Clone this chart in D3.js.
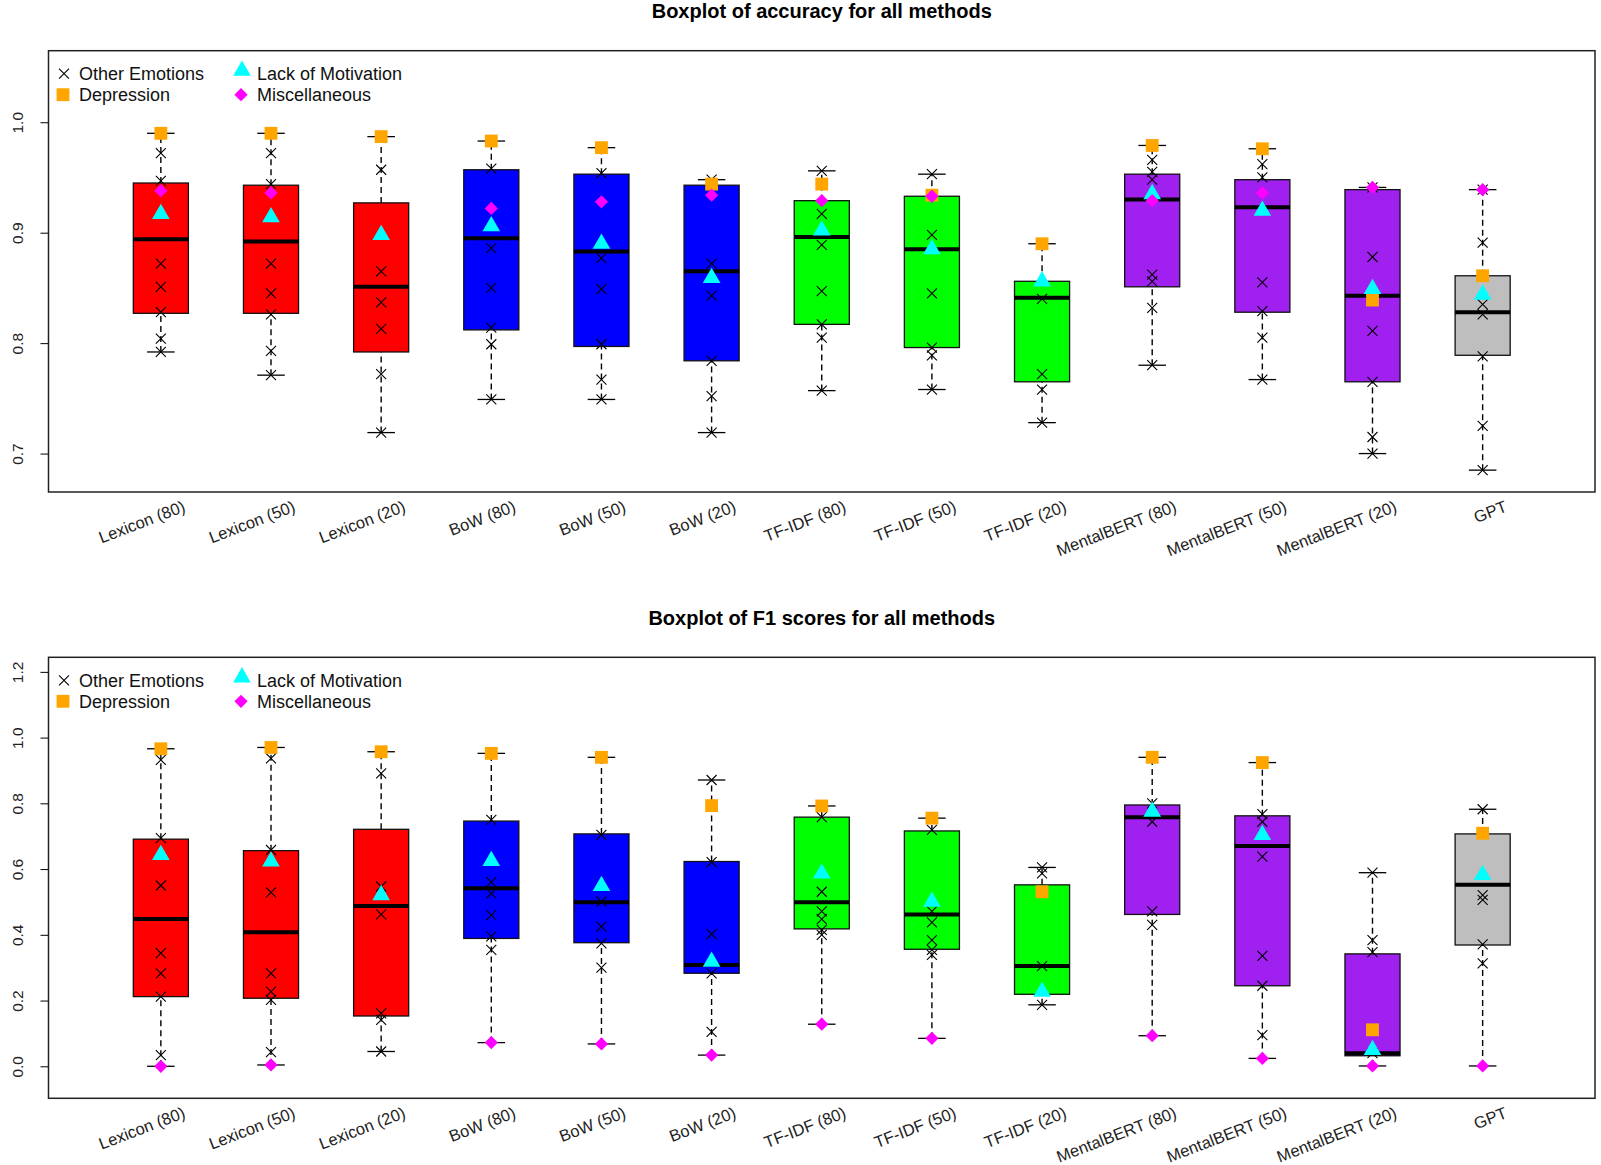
<!DOCTYPE html>
<html>
<head>
<meta charset="utf-8">
<script src="https://cdn.jsdelivr.net/npm/d3@7"></script>
<style>
  body { margin: 0; background: #fff; }
  svg text { font-family: "Liberation Sans", Arial, sans-serif; }
</style>
</head>
<body>
<svg id="chart" width="1601" height="1165"></svg>
<script>
// categories
var methods = ["Lexicon (80)", "Lexicon (50)", "Lexicon (20)", "BoW (80)", "BoW (50)", "BoW (20)",
  "TF-IDF (80)", "TF-IDF (50)", "TF-IDF (20)", "MentalBERT (80)", "MentalBERT (50)", "MentalBERT (20)", "GPT"];
var legendLabels = ["Other Emotions", "Depression", "Lack of Motivation", "Miscellaneous"];

// accuracy: [lower whisker, Q1, median, Q3, upper whisker]
var accStats = [
  [0.792, 0.827, 0.894, 0.945, 0.990],
  [0.771, 0.827, 0.892, 0.943, 0.990],
  [0.719, 0.792, 0.851, 0.927, 0.987],
  [0.749, 0.812, 0.895, 0.957, 0.983],
  [0.749, 0.797, 0.883, 0.953, 0.977],
  [0.719, 0.784, 0.865, 0.943, 0.948],
  [0.757, 0.817, 0.896, 0.929, 0.956],
  [0.758, 0.796, 0.885, 0.933, 0.953],
  [0.728, 0.765, 0.841, 0.856, 0.890],
  [0.780, 0.851, 0.930, 0.953, 0.979],
  [0.767, 0.828, 0.923, 0.948, 0.976],
  [0.700, 0.765, 0.843, 0.939, 0.941],
  [0.685, 0.789, 0.828, 0.861, 0.939]
];
var accOther = [
  [0.972, 0.947, 0.872, 0.851, 0.828, 0.804, 0.792],
  [0.972, 0.944, 0.872, 0.845, 0.826, 0.793, 0.771],
  [0.957, 0.865, 0.837, 0.813, 0.772, 0.719],
  [0.958, 0.886, 0.850, 0.814, 0.799, 0.749],
  [0.954, 0.877, 0.849, 0.799, 0.767, 0.749],
  [0.948, 0.872, 0.843, 0.784, 0.752, 0.719],
  [0.956, 0.917, 0.889, 0.847, 0.817, 0.805, 0.757],
  [0.953, 0.898, 0.845, 0.796, 0.789, 0.758],
  [0.840, 0.772, 0.758, 0.728],
  [0.966, 0.955, 0.948, 0.862, 0.856, 0.832, 0.780],
  [0.962, 0.950, 0.855, 0.829, 0.805, 0.767],
  [0.941, 0.878, 0.811, 0.765, 0.715, 0.700],
  [0.939, 0.891, 0.835, 0.826, 0.788, 0.725, 0.685]
];
var accDepression = [0.990, 0.990, 0.987, 0.983, 0.977, 0.944, 0.944, 0.934, 0.890, 0.979, 0.976, 0.839, 0.861];
var accMotivation = [0.917, 0.914, 0.898, 0.906, 0.890, 0.859, 0.902, 0.885, 0.856, 0.935, 0.920, 0.849, 0.844];
var accMisc = [0.938, 0.936, null, 0.922, 0.928, 0.934, 0.929, 0.933, null, 0.929, 0.936, 0.941, 0.939];

// F1: [lower whisker, Q1, median, Q3, upper whisker]
var f1Stats = [
  [0.000, 0.212, 0.448, 0.691, 0.966],
  [0.004, 0.207, 0.408, 0.656, 0.970],
  [0.045, 0.153, 0.488, 0.721, 0.957],
  [0.072, 0.389, 0.542, 0.746, 0.952],
  [0.068, 0.376, 0.499, 0.707, 0.940],
  [0.034, 0.283, 0.308, 0.623, 0.871],
  [0.128, 0.418, 0.499, 0.758, 0.792],
  [0.085, 0.356, 0.462, 0.716, 0.755],
  [0.187, 0.219, 0.305, 0.552, 0.605],
  [0.093, 0.462, 0.758, 0.795, 0.940],
  [0.024, 0.245, 0.670, 0.762, 0.924],
  [0.001, 0.032, 0.040, 0.342, 0.589],
  [0.001, 0.369, 0.552, 0.707, 0.782]
];
var f1Other = [
  [0.932, 0.694, 0.550, 0.344, 0.283, 0.212, 0.034],
  [0.937, 0.658, 0.529, 0.283, 0.227, 0.202, 0.043],
  [0.891, 0.547, 0.462, 0.161, 0.141, 0.045],
  [0.750, 0.560, 0.526, 0.460, 0.395, 0.354],
  [0.704, 0.501, 0.425, 0.374, 0.300],
  [0.871, 0.621, 0.402, 0.283, 0.105],
  [0.758, 0.531, 0.471, 0.448, 0.415, 0.400],
  [0.719, 0.471, 0.438, 0.384, 0.354, 0.339],
  [0.605, 0.587, 0.305, 0.187],
  [0.800, 0.744, 0.471, 0.430],
  [0.767, 0.744, 0.638, 0.336, 0.245, 0.095],
  [0.589, 0.384, 0.347, 0.040],
  [0.782, 0.521, 0.506, 0.371, 0.313]
];
var f1Depression = [0.966, 0.970, 0.957, 0.952, 0.940, 0.793, 0.792, 0.755, 0.531, 0.940, 0.924, 0.111, 0.709];
var f1Motivation = [0.643, 0.623, 0.521, 0.625, 0.549, 0.318, 0.587, 0.501, 0.227, 0.775, 0.704, 0.050, 0.582];
var f1Misc = [0.000, 0.004, null, 0.072, 0.068, 0.034, 0.128, 0.085, null, 0.093, 0.024, 0.001, 0.001];

var accTicks = [0.7, 0.8, 0.9, 1.0];
var f1Ticks = [0.0, 0.2, 0.4, 0.6, 0.8, 1.0, 1.2];

// styles
var boxFill = ["#ff0000", "#ff0000", "#ff0000", "#0000ff", "#0000ff", "#0000ff",
  "#00ff00", "#00ff00", "#00ff00", "#a020f0", "#a020f0", "#a020f0", "#bebebe"];
var colDep = "#ffa500", colMot = "#00ffff", colMisc = "#ff00ff";

var svg = d3.select("#chart");
var left = 48.5, right = 1595;

var crossPath = "M-5,-5L5,5M-5,5L5,-5";
var squarePath = d3.symbol().type(d3.symbolSquare).size(165)();
var trianglePath = d3.symbol().type(d3.symbolTriangle).size(135)();
var diamondPath = d3.symbol().type(d3.symbolSquare).size(88)();

function drawPanel(p) {
  var g = svg.append("g");
  var x = d3.scaleLinear().domain([-0.02, 14.02]).range([left, right]);
  var y = d3.scaleLinear().domain(p.yDomain).range([p.bottom, p.top]);
  var hw = x(0.25) - x(0);   // half box width
  var cw = x(0.125) - x(0);  // half cap width

  // title
  g.append("text")
    .attr("x", (left + right) / 2)
    .attr("y", p.titleY)
    .attr("text-anchor", "middle")
    .attr("font-size", 20)
    .attr("font-weight", "bold")
    .text(p.title);

  var boxes = g.selectAll(".box")
    .data(p.stats)
    .enter()
    .append("g")
    .attr("class", "box");

  // whiskers
  boxes.append("line")
    .attr("x1", function(d, i){ return x(i + 1); })
    .attr("x2", function(d, i){ return x(i + 1); })
    .attr("y1", function(d){ return y(d[0]); })
    .attr("y2", function(d){ return y(d[1]); })
    .attr("stroke", "#000").attr("stroke-width", 1.4).attr("stroke-dasharray", "6,4");
  boxes.append("line")
    .attr("x1", function(d, i){ return x(i + 1); })
    .attr("x2", function(d, i){ return x(i + 1); })
    .attr("y1", function(d){ return y(d[3]); })
    .attr("y2", function(d){ return y(d[4]); })
    .attr("stroke", "#000").attr("stroke-width", 1.4).attr("stroke-dasharray", "6,4");
  [0, 4].forEach(function(k) {
    boxes.append("line")
      .attr("x1", function(d, i){ return x(i + 1) - cw; })
      .attr("x2", function(d, i){ return x(i + 1) + cw; })
      .attr("y1", function(d){ return y(d[k]); })
      .attr("y2", function(d){ return y(d[k]); })
      .attr("stroke", "#000").attr("stroke-width", 1.3);
  });

  boxes.append("rect")
    .attr("x", function(d, i){ return x(i + 1) - hw; })
    .attr("y", function(d){ return y(d[3]); })
    .attr("width", hw * 2)
    .attr("height", function(d){ return y(d[1]) - y(d[3]); })
    .attr("fill", function(d, i){ return boxFill[i]; })
    .attr("stroke", "#111").attr("stroke-width", 1.3);
  boxes.append("line")
    .attr("x1", function(d, i){ return x(i + 1) - hw; })
    .attr("x2", function(d, i){ return x(i + 1) + hw; })
    .attr("y1", function(d){ return y(d[2]); })
    .attr("y2", function(d){ return y(d[2]); })
    .attr("stroke", "#000").attr("stroke-width", 4);

  // points
  var others = [];
  p.other.forEach(function(arr, i){ arr.forEach(function(v){ others.push([i + 1, v]); }); });
  g.append("g").selectAll("path")
    .data(others)
    .enter()
    .append("path")
    .attr("d", crossPath)
    .attr("transform", function(d){ return "translate(" + x(d[0]) + "," + y(d[1]) + ")"; })
    .attr("stroke", "#000").attr("stroke-width", 1.1).attr("fill", "none");

  function symbols(vals, path, color, rot) {
    g.append("g").selectAll("path")
      .data(vals.map(function(v, i){ return [i + 1, v]; }).filter(function(d){ return d[1] != null; }))
      .enter()
      .append("path")
      .attr("d", path)
      .attr("transform", function(d){ return "translate(" + x(d[0]) + "," + y(d[1]) + ")" + (rot ? " rotate(45)" : ""); })
      .attr("fill", color);
  }
  symbols(p.dep, squarePath, colDep, false);
  symbols(p.mot, trianglePath, colMot, false);
  symbols(p.misc, diamondPath, colMisc, true);

  // frame
  g.append("rect")
    .attr("x", left).attr("y", p.top)
    .attr("width", right - left).attr("height", p.bottom - p.top)
    .attr("fill", "none").attr("stroke", "#222").attr("stroke-width", 1.5);

  // y axis
  var ya = g.append("g")
    .attr("transform", "translate(" + left + ",0)")
    .call(d3.axisLeft(y).tickValues(p.yTicks).tickFormat(d3.format(".1f")).tickSize(8));
  ya.select(".domain").remove();
  ya.selectAll("text")
    .attr("x", 0).attr("dy", 0)
    .attr("text-anchor", "middle")
    .attr("transform", "translate(-26,0) rotate(-90)")
    .attr("font-size", 15.5)
    .attr("fill", "#222")
    .attr("font-family", "Liberation Sans, Arial, sans-serif");

  // x labels
  var xa = g.append("g")
    .attr("transform", "translate(0," + p.bottom + ")")
    .call(d3.axisBottom(x).tickValues(d3.range(1, 14)).tickFormat(function(d){ return methods[d - 1]; }).tickSize(0));
  xa.select(".domain").remove();
  xa.selectAll("text")
    .attr("y", 0).attr("dy", 0)
    .attr("text-anchor", "end")
    .attr("transform", "translate(25,19) rotate(-21)")
    .attr("font-size", 16.5)
    .attr("fill", "#222")
    .attr("font-family", "Liberation Sans, Arial, sans-serif");

  // legend
  var lg = g.append("g");
  var r1 = p.top + 23, r2 = p.top + 44;
  lg.append("path").attr("d", crossPath).attr("transform", "translate(64," + r1 + ")")
    .attr("stroke", "#000").attr("stroke-width", 1.1).attr("fill", "none");
  lg.append("path").attr("d", squarePath).attr("transform", "translate(63," + r2 + ")").attr("fill", colDep);
  lg.append("path").attr("d", trianglePath).attr("transform", "translate(242," + (r1 - 3) + ")").attr("fill", colMot);
  lg.append("path").attr("d", diamondPath).attr("transform", "translate(241," + r2 + ") rotate(45)").attr("fill", colMisc);
  var pos = [[79, r1], [79, r2], [257, r1], [257, r2]];
  lg.selectAll("text")
    .data(legendLabels)
    .enter()
    .append("text")
    .attr("x", function(d, i){ return pos[i][0]; })
    .attr("y", function(d, i){ return pos[i][1]; })
    .attr("dy", "0.36em")
    .attr("font-size", 18)
    .attr("fill", "#111")
    .text(function(d){ return d; });
}

drawPanel({
  title: "Boxplot of accuracy for all methods", titleY: 18,
  top: 50.7, bottom: 492, yDomain: [0.6652, 1.0648], yTicks: accTicks,
  stats: accStats, other: accOther, dep: accDepression, mot: accMotivation, misc: accMisc
});
drawPanel({
  title: "Boxplot of F1 scores for all methods", titleY: 625,
  top: 657.3, bottom: 1098.3, yDomain: [-0.0974, 1.2443], yTicks: f1Ticks,
  stats: f1Stats, other: f1Other, dep: f1Depression, mot: f1Motivation, misc: f1Misc
});
</script>
</body>
</html>
